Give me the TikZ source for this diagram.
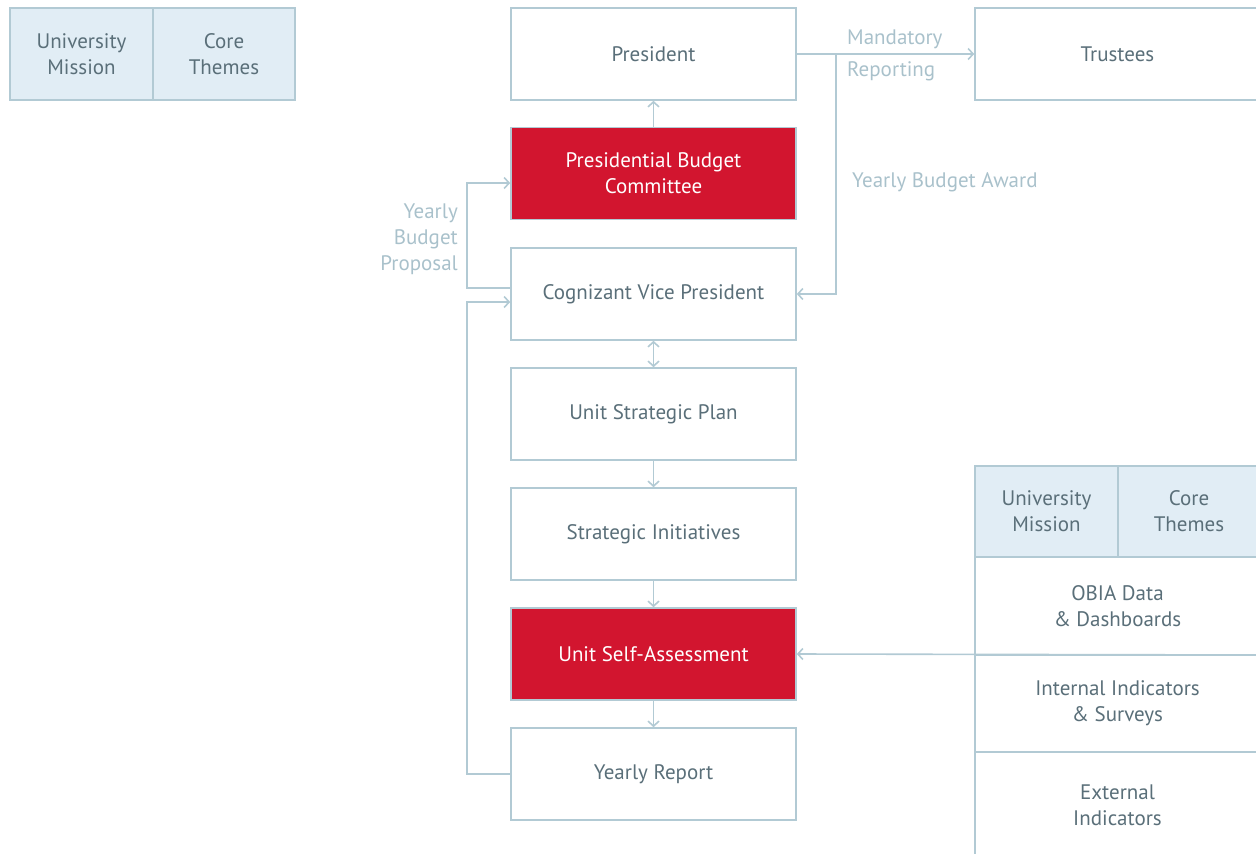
\documentclass[tikz,border=0pt]{standalone}
\usepackage{fontspec}
\setmainfont{PT Sans}
\usetikzlibrary{arrows.meta}
\definecolor{edge}{HTML}{B2CAD4}
\definecolor{head}{HTML}{E1EDF5}
\definecolor{ink}{HTML}{5A6F79}
\definecolor{soft}{HTML}{A9C1CB}
\definecolor{alert}{HTML}{D2152F}
\tikzset{
  box/.style={draw=edge, line width=1.6pt, fill=white, text=ink, align=center,
    minimum width=285pt, minimum height=92pt, inner sep=0pt,
    font=\fontsize{21}{26}\selectfont},
  redbox/.style={box, fill=alert, text=white},
  cell/.style={box, fill=head, minimum width=143pt},
  tip/.tip={Straight Barb[length=5pt,width=11pt,line width=1.6pt]},
  link/.style={draw=edge, line width=1.6pt, -tip},
  tag/.style={text=soft, font=\fontsize{21}{26}\selectfont, inner sep=0pt}
}
\begin{document}
\begin{tikzpicture}[x=1pt,y=-1pt]
\useasboundingbox (0,0) rectangle (1256,854);
\clip (0,0) rectangle (1256,854);

% guiding principles, top left
\node[cell] (um) at (81.5,54) {University\\Mission};
\node[cell, minimum width=142pt] (ct) at (224,54) {Core\\Themes};

% main chain
\node[box] (pres) at (653.5,54) {President};
\node[redbox] (pbc) at (653.5,173.5) {Presidential Budget\\Committee};
\node[box] (cvp) at (653.5,294) {Cognizant Vice President};
\node[box] (usp) at (653.5,414) {Unit Strategic Plan};
\node[box] (si) at (653.5,534) {Strategic Initiatives};
\node[redbox] (usa) at (653.5,654) {Unit Self-Assessment};
\node[box] (yr) at (653.5,774) {Yearly Report};

% trustees, running past the right edge
\node[box] (tr) at (1117.5,54) {Trustees};

% data sources panel, right
\node[cell, minimum height=91pt] (um2) at (1046.5,511.5) {University\\Mission};
\node[cell, minimum width=142pt, minimum height=91pt] (ct2) at (1189,511.5) {Core\\Themes};
\node[box, minimum height=98pt] (obia) at (1117.5,606) {OBIA Data\\\& Dashboards};
\node[box, minimum height=97pt] (ind) at (1117.5,703.5) {Internal Indicators\\\& Surveys};
\node[box, minimum height=106pt] (ext) at (1117.5,805) {External\\Indicators};
\coordinate (feed) at (1262,655);

% connectors
\draw[link] (pbc) -- (pres);
\draw[link] (pres.east) -- (tr.west);
\coordinate (split) at (836,54);
\draw[link] (split) |- (cvp.east);
\draw[link] ([yshift=6pt]cvp.west) -- ++(-43,0) |- ([yshift=-9.5pt]pbc.west);
\draw[link] (yr.west) -- ++(-43,0) |- ([yshift=-8pt]cvp.west);
\draw[link, tip-tip] (cvp) -- (usp);
\draw[link] (usp) -- (si);
\draw[link] (si) -- (usa);
\draw[link] (usa) -- (yr);
\draw[link] (feed) -- (usa.east);

% connector labels
\node[tag, anchor=west] (l1) at (847,39) {Mandatory};
\node[tag, anchor=west] (l2) at (847,71) {Reporting};
\node[tag, anchor=west] (l3) at (852,182) {Yearly Budget Award};
\node[tag, anchor=east, align=right] (l4) at (458,239) {Yearly\\Budget\\Proposal};
\end{tikzpicture}
\end{document}
